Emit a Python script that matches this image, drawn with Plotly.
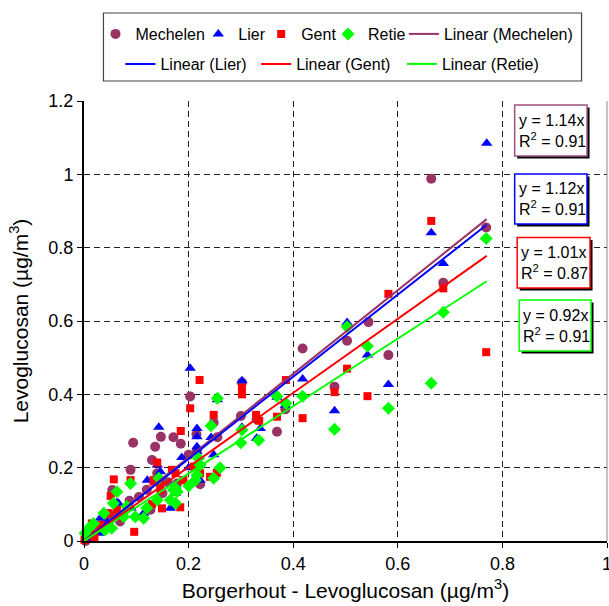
import plotly.graph_objects as go

# ---------------- data ----------------
mech_x = [0.769, 0.664, 0.687, 0.544, 0.503, 0.418, 0.582, 0.479, 0.385, 0.369,
          0.302, 0.203, 0.248, 0.300, 0.330, 0.215, 0.147, 0.171, 0.185, 0.136,
          0.255, 0.094, 0.130, 0.089, 0.200, 0.216, 0.178, 0.222, 0.140, 0.054,
          0.087, 0.127, 0.069, 0.003, 0.010, 0.025, 0.040, 0.050, 0.060, 0.105,
          0.120, 0.160, 0.150]
mech_y = [0.855, 0.988, 0.704, 0.597, 0.546, 0.525, 0.507, 0.421, 0.359, 0.298,
          0.432, 0.394, 0.323, 0.341, 0.332, 0.291, 0.284, 0.283, 0.265, 0.257,
          0.283, 0.268, 0.221, 0.194, 0.235, 0.248, 0.157, 0.155, 0.185, 0.139,
          0.110, 0.085, 0.053, 0.000, 0.012, 0.030, 0.045, 0.060, 0.070, 0.120,
          0.140, 0.160, 0.130]

lier_x = [0.770, 0.664, 0.687, 0.503, 0.542, 0.418, 0.582, 0.479, 0.369, 0.385,
          0.203, 0.302, 0.255, 0.216, 0.216, 0.243, 0.216, 0.216, 0.302, 0.337,
          0.330, 0.248, 0.222, 0.143, 0.187, 0.140, 0.146, 0.175, 0.121, 0.063,
          0.114, 0.165, 0.066, 0.031, 0.028, 0.005, 0.015, 0.045, 0.090, 0.200,
          0.216]
lier_y = [1.085, 0.841, 0.757, 0.596, 0.507, 0.442, 0.427, 0.355, 0.392, 0.370,
          0.471, 0.437, 0.385, 0.307, 0.284, 0.282, 0.257, 0.244, 0.310, 0.307,
          0.280, 0.235, 0.166, 0.310, 0.228, 0.207, 0.189, 0.130, 0.166, 0.104,
          0.076, 0.089, 0.103, 0.062, 0.021, 0.004, 0.015, 0.050, 0.090, 0.200,
          0.180]

gent_x = [0.664, 0.582, 0.687, 0.769, 0.503, 0.386, 0.479, 0.542, 0.418, 0.369,
          0.221, 0.302, 0.302, 0.203, 0.248, 0.329, 0.335, 0.185, 0.210, 0.222,
          0.241, 0.254, 0.140, 0.168, 0.089, 0.133, 0.146, 0.175, 0.190, 0.057,
          0.051, 0.063, 0.096, 0.130, 0.149, 0.184, 0.133, 0.146, 0.047, 0.066,
          0.031, 0.015, 0.012, 0.001, 0.020]
gent_y = [0.873, 0.674, 0.689, 0.515, 0.470, 0.439, 0.406, 0.395, 0.335, 0.339,
          0.439, 0.418, 0.400, 0.362, 0.344, 0.344, 0.328, 0.300, 0.203, 0.185,
          0.175, 0.186, 0.214, 0.194, 0.166, 0.166, 0.157, 0.185, 0.166, 0.168,
          0.123, 0.085, 0.025, 0.101, 0.089, 0.092, 0.162, 0.139, 0.076, 0.066,
          0.044, 0.048, 0.025, 0.003, 0.010]

retie_x = [0.769, 0.687, 0.503, 0.542, 0.418, 0.664, 0.582, 0.479, 0.386, 0.369,
           0.255, 0.243, 0.302, 0.334, 0.300, 0.219, 0.222, 0.216, 0.248, 0.089,
           0.143, 0.171, 0.175, 0.213, 0.063, 0.038, 0.082, 0.076, 0.098, 0.114,
           0.140, 0.165, 0.178, 0.175, 0.056, 0.018, 0.009, 0.002, 0.053, 0.040,
           0.120, 0.200, 0.260]
retie_y = [0.825, 0.624, 0.584, 0.532, 0.395, 0.430, 0.362, 0.305, 0.376, 0.395,
           0.389, 0.314, 0.303, 0.275, 0.268, 0.226, 0.207, 0.180, 0.171, 0.157,
           0.171, 0.139, 0.144, 0.166, 0.134, 0.076, 0.094, 0.066, 0.066, 0.062,
           0.112, 0.112, 0.134, 0.103, 0.103, 0.048, 0.035, 0.021, 0.035, 0.030,
           0.090, 0.150, 0.200]

series_names = ["Mechelen", "Lier", "Gent", "Retie"]
slopes = [1.14, 1.12, 1.01, 0.92]
r2 = [0.91, 0.91, 0.87, 0.91]
fit_x_max = 0.77

x_ticks = [0, 0.2, 0.4, 0.6, 0.8, 1]
y_ticks = [0, 0.2, 0.4, 0.6, 0.8, 1, 1.2]

# ---------------- styling ----------------
colors = ["#993366", "#0000FF", "#FF0000", "#00FF00"]
box_colors = ["#A05080", "#0000FF", "#FF0000", "#00FF00"]
symbols = ["circle", "triangle-up", "square", "diamond"]
msizes = [10, 10, 8, 10]
FONT = "Liberation Sans, Arial, Helvetica, sans-serif"

W, H = 609, 606
L, R_PX, T, B = 83.5, 607.5, 101, 541


def px_x(px):
    return (px - L) / (R_PX - L)


def px_y(py):
    return (B - py) / (B - T)


xs = [mech_x, lier_x, gent_x, retie_x]
ys = [mech_y, lier_y, gent_y, retie_y]

# legend entry positions (left edge px, centre y px)
marker_leg_pos = [(95, 34), (198, 34), (261, 34), (328, 34)]
line_leg_pos = [(404, 34), (120, 64), (256, 64), (402, 64)]

fig = go.Figure()

for i in range(4):
    fig.add_trace(go.Scatter(
        x=xs[i], y=ys[i], mode="markers", name=series_names[i],
        marker=dict(symbol=symbols[i], size=msizes[i], color=colors[i],
                    line=dict(width=0)),
        cliponaxis=False, legend="legend" if i == 0 else f"legend{i + 1}",
    ))

for i in range(4):
    fig.add_trace(go.Scatter(
        x=[0, fit_x_max], y=[0, slopes[i] * fit_x_max], mode="lines",
        name=f"Linear ({series_names[i]})",
        line=dict(color=colors[i], width=2),
        legend=f"legend{i + 5}",
    ))

axis_common = dict(
    showgrid=True, gridcolor="#222222", gridwidth=1, griddash="6px,4px",
    zeroline=False, showline=True, linecolor="black", linewidth=2,
    ticks="outside", ticklen=5, tickcolor="black", tickwidth=1,
    tickfont=dict(family=FONT, size=18, color="black"),
    ticklabeloverflow="allow",
)

fig.update_layout(
    width=W, height=H,
    margin=dict(l=L, r=W - R_PX, t=T, b=H - B, autoexpand=False),
    paper_bgcolor="white", plot_bgcolor="white",
    font=dict(family=FONT, color="black"),
    xaxis=dict(range=[0, 1], tickvals=x_ticks,
               ticktext=[f"{v:g}" for v in x_ticks],
               title=dict(text="Borgerhout - Levoglucosan (µg/m<sup>3</sup>)",
                          font=dict(family=FONT, size=21), standoff=11),
               **axis_common),
    yaxis=dict(range=[0, 1.2], tickvals=y_ticks,
               ticktext=[f"{v:g}" for v in y_ticks],
               title=dict(text="Levoglucosan (µg/m<sup>3</sup>)",
                          font=dict(family=FONT, size=21), standoff=14),
               **axis_common),
    showlegend=True,
)

all_pos = marker_leg_pos + line_leg_pos
for k, (lx, ly) in enumerate(all_pos):
    key = "legend" if k == 0 else f"legend{k + 1}"
    fig.update_layout(**{key: dict(
        orientation="h", x=px_x(lx), y=px_y(ly), xanchor="left",
        yanchor="middle", bgcolor="rgba(0,0,0,0)", borderwidth=0,
        font=dict(family=FONT, size=16), itemwidth=30,
    )})

shapes = []
# legend frame
shapes.append(dict(type="rect", xref="paper", yref="paper",
                   x0=px_x(103), x1=px_x(582), y0=px_y(81), y1=px_y(13),
                   line=dict(color="#444444", width=1.2), fillcolor="white",
                   layer="below"))
# right border of plot area
shapes.append(dict(type="line", xref="paper", yref="paper", x0=1, x1=1,
                   y0=0, y1=1, line=dict(color="#888888", width=1)))

boxes = [(515, 587.5, 105, 156), (515, 587.5, 174, 224),
         (517.5, 590.5, 237.5, 288), (519.5, 591.5, 300, 351)]
annotations = []
for i, (bx0, bx1, by0, by1) in enumerate(boxes):
    # shadow
    shapes.append(dict(type="rect", xref="paper", yref="paper",
                       x0=px_x(bx0 + 2.5), x1=px_x(bx1 + 2.5),
                       y0=px_y(by1 + 2.5), y1=px_y(by0 + 2.5),
                       line=dict(width=0), fillcolor="black", layer="above"))
    shapes.append(dict(type="rect", xref="paper", yref="paper",
                       x0=px_x(bx0), x1=px_x(bx1), y0=px_y(by1), y1=px_y(by0),
                       line=dict(color=box_colors[i], width=1.5),
                       fillcolor="white", layer="above"))
    annotations.append(dict(
        xref="paper", yref="paper", x=px_x(bx0 + 2), y=px_y((by0 + by1) / 2),
        xanchor="left", yanchor="middle", align="left", showarrow=False,
        text=f"y = {slopes[i]:.2f}x<br>R<sup>2</sup> = {r2[i]:.2f}",
        font=dict(family=FONT, size=16, color="black"),
    ))

fig.update_layout(shapes=shapes, annotations=annotations)

fig.write_html("out.html", config={"displayModeBar": False},
               post_script="document.body.style.margin='0';")
